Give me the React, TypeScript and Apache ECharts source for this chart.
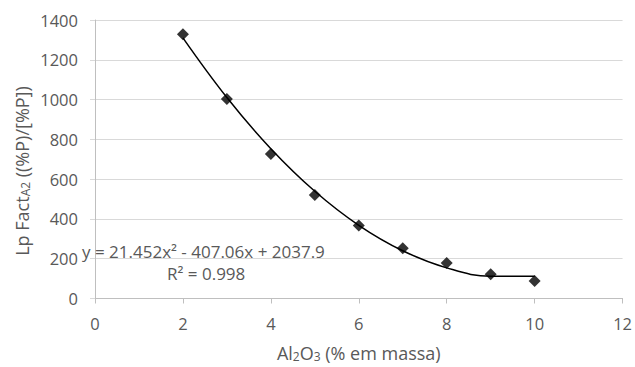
import React, { useEffect, useRef } from "react";
import * as echarts from "echarts";

const xValues = [2, 3, 4, 5, 6, 7, 8, 9, 10];
const yValues = [1328, 1003, 727, 520, 367, 253, 178, 122, 88];
// trendline heights at each x
const trendValues = [1310, 1010, 753, 539, 368, 240, 154, 112, 112];
const xTicks = [0, 2, 4, 6, 8, 10, 12];
const yTicks = [0, 200, 400, 600, 800, 1000, 1200, 1400];
const equationText = "y = 21.452x² - 407.06x + 2037.9";
const r2Text = "R² = 0.998";

const FONT = "'Open Sans', sans-serif";
const GREY = "#595959";

export default function App() {
  const ref = useRef<HTMLDivElement>(null);
  useEffect(() => {
    if (!ref.current) return;
    const chart = echarts.init(ref.current, undefined, { renderer: "svg" });
    chart.setOption({
      animation: false,
      backgroundColor: "#ffffff",
      grid: { left: 95, right: 10, top: 20, bottom: 67, containLabel: false },
      xAxis: {
        type: "value",
        min: xTicks[0],
        max: xTicks[xTicks.length - 1],
        interval: 2,
        name: "{a|Al}{s|2}{a|O}{s|3}{a| (% em massa)}",
        nameLocation: "middle",
        nameGap: 43,
        nameTextStyle: {
          rich: {
            a: { fontFamily: FONT, fontSize: 18, color: GREY, lineHeight: 22 },
            s: { fontFamily: FONT, fontSize: 12, color: GREY, lineHeight: 22, padding: [7, 0, 0, 0] },
          },
        },
        axisLine: { show: true, lineStyle: { color: "#bfbfbf", width: 1 } },
        axisTick: { show: true, length: 5, lineStyle: { color: "#bfbfbf" } },
        axisLabel: { fontFamily: FONT, fontSize: 16.5, color: GREY, margin: 16, formatter: (v: number) => String(v) },
        splitLine: { show: false },
      },
      yAxis: {
        type: "value",
        min: yTicks[0],
        max: yTicks[yTicks.length - 1],
        interval: 200,
        axisLine: { show: true, lineStyle: { color: "#bfbfbf", width: 1 } },
        axisTick: { show: true, length: 5, lineStyle: { color: "#d9d9d9" } },
        axisLabel: { fontFamily: FONT, fontSize: 16.5, color: GREY, margin: 17, formatter: (v: number) => String(v) },
        splitLine: { show: true, lineStyle: { color: "#d9d9d9", width: 1 } },
      },
      series: [
        {
          type: "line",
          data: xValues.map((x, i) => [x, trendValues[i]]),
          smooth: 0.4,
          showSymbol: false,
          symbol: "none",
          lineStyle: { color: "#000000", width: 1.5 },
          z: 2,
        },
        {
          type: "scatter",
          data: xValues.map((x, i) => [x, yValues[i]]),
          symbol: "diamond",
          symbolSize: 12,
          itemStyle: { color: "#000000" },
          z: 3,
        },
      ],
      graphic: [
        {
          type: "text",
          x: 22,
          y: 171,
          rotation: Math.PI / 2,
          style: {
            text: "{a|Lp Fact}{s|A2}{a| ((%P)/[%P])}",
            align: "center",
            verticalAlign: "middle",
            rich: {
              a: { fontFamily: FONT, fontSize: 18, fill: GREY, lineHeight: 22 },
              s: { fontFamily: FONT, fontSize: 12, fill: GREY, lineHeight: 22, padding: [6, 0, 0, 0] },
            },
          },
          z: 10,
        },
        {
          type: "text",
          left: 82,
          top: 243,
          style: { text: equationText, font: `17px ${FONT}`, fill: GREY },
          z: 10,
        },
        {
          type: "text",
          left: 167,
          top: 265,
          style: { text: r2Text, font: `17px ${FONT}`, fill: GREY },
          z: 10,
        },
      ],
    });
    return () => chart.dispose();
  }, []);
  return (
    <div
      ref={ref}
      style={{ position: "absolute", left: 0, top: 0, width: 635, height: 367 }}
    />
  );
}
